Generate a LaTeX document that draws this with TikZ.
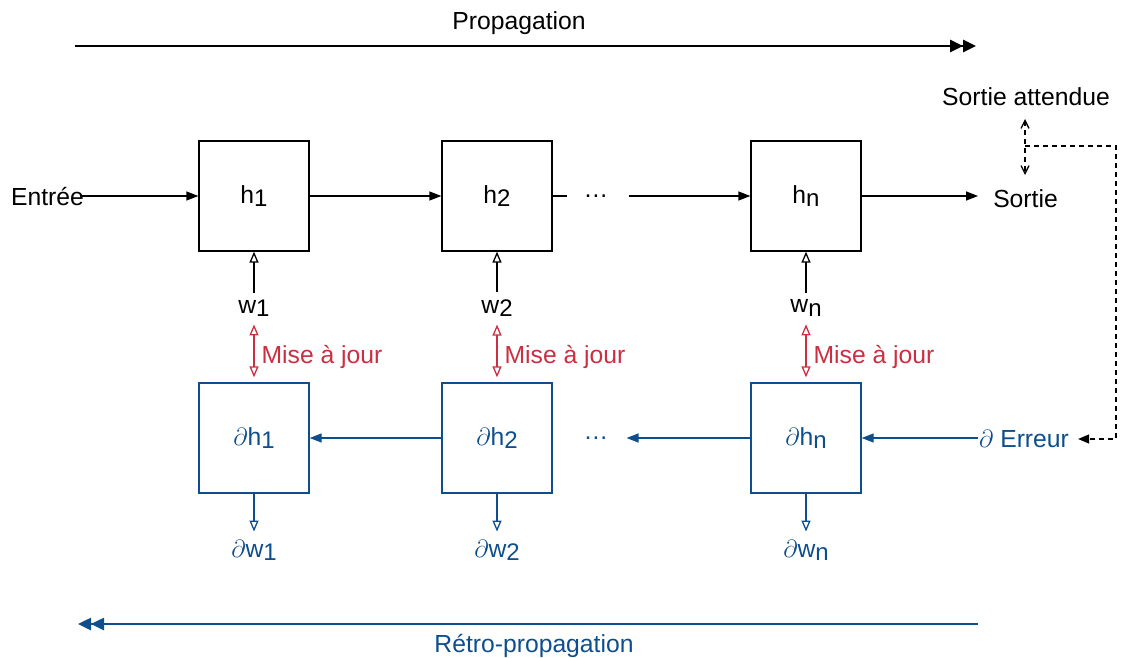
\documentclass[tikz,border=0pt]{standalone}
\usepackage{fontspec}
\setmainfont{Liberation Sans}
\usetikzlibrary{arrows.meta}

\definecolor{backblue}{RGB}{14,78,140}
\definecolor{updred}{RGB}{204,46,66}

% lowered index digit, as in h1, w2, hn
\newcommand\lowidx[1]{\raisebox{-0.13em}{\fontsize{24}{28}\selectfont #1}}

\tikzset{
  every node/.style={font=\fontsize{24.7}{29}\selectfont, inner sep=0pt},
  cell/.style={draw, line width=1.3pt, minimum size=110pt, inner sep=0pt},
  bcell/.style={cell, draw=backblue, text=backblue},
  fwd/.style={line width=1.3pt, -{Triangle[length=12pt,width=9pt]}},
  bwd/.style={fwd, color=backblue},
  wgt/.style={line width=1.3pt, -{Triangle[open,length=11pt,width=9pt]}},
  upd/.style={line width=1.3pt, draw=updred, {Triangle[open,length=11pt,width=9pt]}-{Triangle[open,length=11pt,width=9pt]}},
  cmp/.style={line width=1.3pt, dash pattern=on 5pt off 4pt},
  flow/.style={line width=2.5pt, -{Triangle[length=13pt,width=12pt]Triangle[length=13pt,width=12pt]}},
}

\begin{document}
\begin{tikzpicture}[x=1pt, y=-1pt]
\useasboundingbox (0,0) rectangle (1121,658);

% forward direction
\node (prop) at (519,23) {Propagation};
\coordinate (propS) at (75,46);
\coordinate (propE) at (976,46);
\draw[flow] (propS) -- (propE);

% forward cells
\node[cell] (h1) at (254,196) {h\lowidx{1}};
\node[cell] (h2) at (497,196) {h\lowidx{2}};
\node[cell] (hn) at (806,196) {h\lowidx{n}};
\node (dotsT) at (596,196) {\dots};

\node (in) at (47.5,197) {Entrée};
\node (out) at (1025.5,199) {Sortie};
\node (target) at (1026,97) {Sortie attendue};

\draw[fwd] ([xshift=-4pt]in.east |- h1.west) -- (h1.west);
\draw[fwd] (h1.east) -- (h2.west);
\draw[line width=1.3pt] (h2.east) -- ([xshift=-16pt]dotsT.west);
\draw[fwd] ([xshift=20pt]dotsT.east) -- (hn.west);
\draw[fwd] (hn.east) -- ([xshift=-15pt]hn.east -| out.west);

% weights
\node (w1) at (254,308) {w\lowidx{1}};
\node (w2) at (497,308) {w\lowidx{2}};
\node (wn) at (806,308) {w\lowidx{n}};
\draw[wgt] ([yshift=7pt]w1.north) -- (h1.south);
\draw[wgt] ([yshift=7pt]w2.north) -- (h2.south);
\draw[wgt] ([yshift=7pt]wn.north) -- (hn.south);

% backward cells
\node[bcell] (d1) at (254,438) {$\partial$h\lowidx{1}};
\node[bcell] (d2) at (497,438) {$\partial$h\lowidx{2}};
\node[bcell] (dn) at (806,438) {$\partial$h\lowidx{n}};
\node[text=backblue] (dotsB) at (596,438) {\dots};
\node[text=backblue, anchor=west] (err) at (979,439) {$\partial$ Erreur};

\draw[bwd] ([xshift=-1pt]err.west |- dn.east) -- (dn.east);
\draw[bwd] (dn.west) -- ([xshift=18pt]dotsB.east);
\draw[bwd] (d2.west) -- (d1.east);

% weight updates
\foreach \w/\d in {w1/d1, w2/d2, wn/dn}{
  \draw[upd] ([yshift=-8pt]\w.south) -- ([yshift=5pt]\d.north)
    node[midway, right=7pt, yshift=-6pt, text=updred] {Mise à jour};
}

% weight gradients
\node[text=backblue] (g1) at (254,550) {$\partial$w\lowidx{1}};
\node[text=backblue] (g2) at (497,550) {$\partial$w\lowidx{2}};
\node[text=backblue] (gn) at (806,550) {$\partial$w\lowidx{n}};
\draw[wgt, draw=backblue] (d1.south) -- ([yshift=8pt]g1.north);
\draw[wgt, draw=backblue] (d2.south) -- ([yshift=8pt]g2.north);
\draw[wgt, draw=backblue] (dn.south) -- ([yshift=8pt]gn.north);

% comparison with the expected output
\coordinate (cmpT) at (1025,119);
\coordinate (cmpB) at (1025,175);
\coordinate (cmpM) at (1025,146);
\coordinate (cmpR) at (1116,146);
\draw[cmp, {Straight Barb[length=8pt,width=8pt]}-{Straight Barb[length=8pt,width=8pt]}] (cmpT) -- (cmpB);
\draw[cmp, -{Triangle[length=11pt,width=9pt]}] (cmpM) -- (cmpR) |- ([xshift=9pt]err.east);

% backward direction
\node[text=backblue] (retro) at (534,646) {Rétro-propagation};
\coordinate (retroS) at (978,624);
\coordinate (retroE) at (78,624);
\draw[flow, draw=backblue, fill=backblue] (retroS) -- (retroE);
\end{tikzpicture}
\end{document}
